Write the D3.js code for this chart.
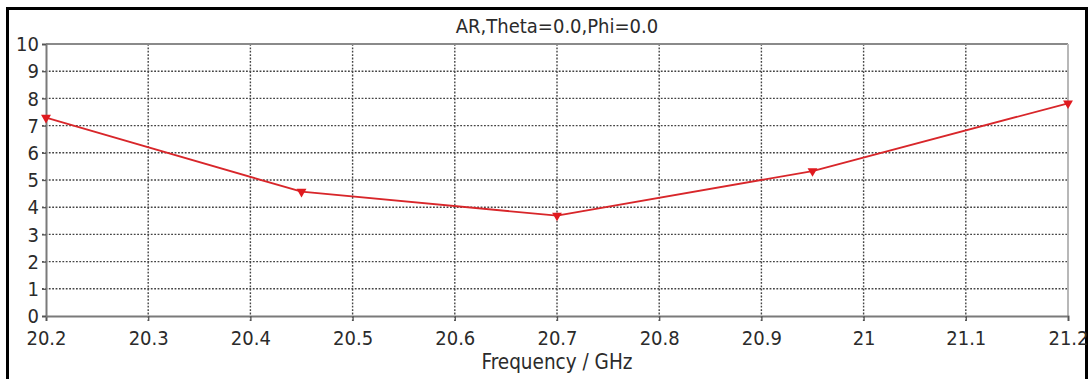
<!DOCTYPE html>
<html>
<head>
<meta charset="utf-8">
<script src="https://cdn.jsdelivr.net/npm/d3@7"></script>
<style>
  html, body { margin: 0; padding: 0; background: #fff; }
  svg { display: block; }
  text { font-family: "DejaVu Sans Condensed", "DejaVu Sans", sans-serif; font-stretch: condensed; fill: #2b2b2b; }
</style>
</head>
<body>
<script>
// Axial ratio samples (frequency in GHz, AR in dB)
const frequency = [20.2, 20.45, 20.7, 20.95, 21.2];
const axialRatio = [7.29, 4.57, 3.69, 5.33, 7.82];
const xTicks = [20.2, 20.3, 20.4, 20.5, 20.6, 20.7, 20.8, 20.9, 21.0, 21.1, 21.2];
const yTicks = [0, 1, 2, 3, 4, 5, 6, 7, 8, 9, 10];
const chartTitle = "AR,Theta=0.0,Phi=0.0";
const xAxisTitle = "Frequency / GHz";

const W = 1091, H = 379;
const margin = { left: 46, right: 23, top: 44, bottom: 63 };
const FONT = "DejaVu Sans Condensed, DejaVu Sans, sans-serif";

const svg = d3.select("body").append("svg")
  .attr("width", W).attr("height", H);

svg.append("rect").attr("width", W).attr("height", H).attr("fill", "#fff");

// outer frame
svg.append("rect")
  .attr("x", 7.5).attr("y", 8.5)
  .attr("width", 1079).attr("height", 380)
  .attr("fill", "none").attr("stroke", "#000").attr("stroke-width", 3);

const x = d3.scaleLinear().domain([20.2, 21.2]).range([margin.left, W - margin.right]);
const y = d3.scaleLinear().domain([0, 10]).range([H - margin.bottom, margin.top]);

const fmtX = d => (Math.round(d * 10) / 10).toString();

// dotted grid
const grid = svg.append("g").attr("stroke", "#444").attr("stroke-width", 1.4)
  .attr("stroke-dasharray", "1.8,1.6").attr("fill", "none");
grid.selectAll(".hg").data(yTicks.filter(d => d > 0 && d < 10)).join("line")
  .attr("x1", x(20.2) - 4).attr("x2", x(21.2))
  .attr("y1", d => y(d)).attr("y2", d => y(d));
grid.selectAll(".vg").data(xTicks.filter(d => d > 20.2 && d < 21.2)).join("line")
  .attr("y1", y(10)).attr("y2", y(0) + 5)
  .attr("x1", d => x(d)).attr("x2", d => x(d));

// plot frame: top and right edges
svg.append("line").attr("x1", x(20.2)).attr("x2", x(21.2))
  .attr("y1", y(10)).attr("y2", y(10)).attr("stroke", "#8a8a8a").attr("stroke-width", 2);
svg.append("line").attr("x1", x(21.2)).attr("x2", x(21.2))
  .attr("y1", y(10)).attr("y2", y(0)).attr("stroke", "#b8b8b8").attr("stroke-width", 2);

// axes
const xAxis = d3.axisBottom(x).tickValues(xTicks).tickFormat(fmtX).tickSize(5).tickPadding(10);
const yAxis = d3.axisLeft(y).tickValues(yTicks).tickFormat(d3.format("d")).tickSize(4).tickPadding(3);

const gx = svg.append("g").attr("transform", `translate(0,${y(0)})`).call(xAxis);
const gy = svg.append("g").attr("transform", `translate(${x(20.2)},0)`).call(yAxis);

[gx, gy].forEach(g => {
  g.select(".domain").attr("stroke", "#7a7a7a").attr("stroke-width", 2);
  g.selectAll(".tick line").attr("stroke", "#555").attr("stroke-width", 1.3);
  g.selectAll(".tick text").attr("font-family", FONT)
    .attr("font-size", 20).attr("fill", "#2b2b2b");
});
gy.selectAll(".tick text").attr("dy", "0.33em");

// data line
const line = d3.line().x((d, i) => x(frequency[i])).y(d => y(d));
svg.append("path").datum(axialRatio)
  .attr("d", line).attr("fill", "none")
  .attr("stroke", "#d8262a").attr("stroke-width", 1.8)
  .attr("stroke-linejoin", "round");

// downward triangle markers
const tri = d3.symbol().type(d3.symbolTriangle).size(42);
svg.selectAll(".mk").data(axialRatio).join("path")
  .attr("d", tri)
  .attr("transform", (d, i) => `translate(${x(frequency[i])},${y(d)}) rotate(180)`)
  .attr("fill", "#e01a1f");

// titles
svg.append("text").attr("x", (x(20.2) + x(21.2)) / 2).attr("y", 33)
  .attr("text-anchor", "middle").attr("font-size", 20).text(chartTitle);
svg.append("text").attr("x", (x(20.2) + x(21.2)) / 2).attr("y", 369)
  .attr("text-anchor", "middle").attr("font-size", 20.5).text(xAxisTitle);
</script>
</body>
</html>
